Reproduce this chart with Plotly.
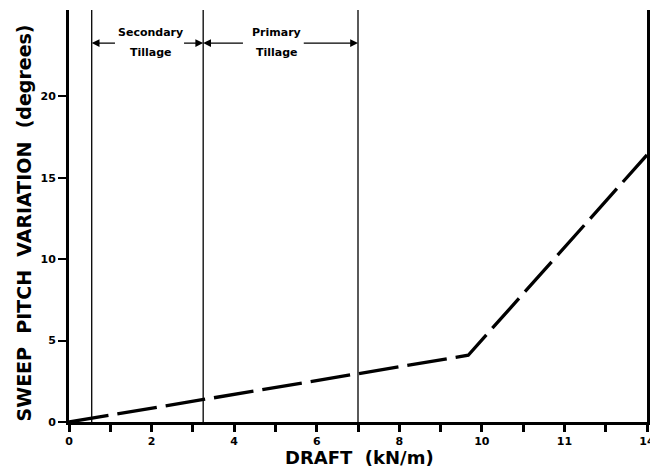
import plotly.graph_objects as go

# Data
draft = [0.0, 9.67, 14.0]
pitch = [0.0, 4.1, 16.4]
boundaries = [0.55, 3.25, 7.0]
x_tick_vals = list(range(0, 15))
x_tick_text = ["0", "", "2", "", "4", "", "6", "", "8", "", "10", "", "11", "", "14"]
y_tick_vals = [0, 5, 10, 15, 20]
y_tick_text = ["0", "5", "10", "15", "20"]
region_line1 = ["Secondary", "Primary"]
region_line2 = ["Tillage", "Tillage"]
x_title = "DRAFT  (kN/m)"
y_title = "SWEEP  PITCH  VARIATION  (degrees)"

FONT = "DejaVu Sans"
YMAX = 25.3

fig = go.Figure()
fig.add_trace(go.Scatter(
    x=draft, y=pitch, mode="lines",
    line=dict(color="black", width=3.3, dash="40px,9px"),
    showlegend=False, hoverinfo="skip",
))

for b in boundaries:
    fig.add_shape(type="line", xref="x", yref="y", x0=b, x1=b, y0=0, y1=YMAX,
                  line=dict(color="black", width=1.3))

arrow_y = 23.27
arrows = [
    (1.15, boundaries[0]), (2.75, boundaries[1]),
    (4.25, boundaries[1]), (5.65, boundaries[2]),
]
for tail, head in arrows:
    fig.add_annotation(x=head, y=arrow_y, ax=tail, ay=arrow_y, xref="x", yref="y",
                       axref="x", ayref="y", text="", showarrow=True,
                       arrowhead=2, arrowsize=1.2, arrowwidth=1.3, arrowcolor="black")

centers = [1.98, 5.03]
for c, l1, l2 in zip(centers, region_line1, region_line2):
    fig.add_annotation(x=c, y=23.89, xref="x", yref="y", text=l1, showarrow=False,
                       font=dict(family=FONT, size=11, color="black", weight="bold"))
    fig.add_annotation(x=c, y=22.66, xref="x", yref="y", text=l2, showarrow=False,
                       font=dict(family=FONT, size=11, color="black", weight="bold"))

fig.add_annotation(x=0.503, y=-0.087, xref="paper", yref="paper", text=x_title,
                   showarrow=False, xanchor="center", yanchor="middle",
                   font=dict(family=FONT, size=18, color="black", weight="bold"))
fig.add_annotation(x=-0.077, y=0.483, xref="paper", yref="paper", text=y_title,
                   showarrow=False, xanchor="center", yanchor="middle", textangle=-90,
                   font=dict(family=FONT, size=19, color="black", weight="bold"))

fig.update_layout(
    width=650, height=460,
    margin=dict(l=61, r=11, t=2, b=46),
    paper_bgcolor="white", plot_bgcolor="white",
    font=dict(family=FONT, color="black"),
)
fig.update_xaxes(
    range=[0, 14], tickvals=x_tick_vals, ticktext=x_tick_text,
    ticks="outside", ticklen=7, tickwidth=3, tickcolor="black",
    showline=True, linewidth=3, linecolor="black", mirror=False,
    showgrid=False, zeroline=False, automargin=False,
    tickfont=dict(family=FONT, size=11, weight="bold"),
)
fig.update_yaxes(
    range=[0, YMAX], tickvals=y_tick_vals, ticktext=y_tick_text,
    ticks="outside", ticklen=8, tickwidth=2, tickcolor="black",
    showline=True, linewidth=3, linecolor="black", mirror=True,
    showgrid=False, zeroline=False, automargin=False,
    tickfont=dict(family=FONT, size=11, weight="bold"),
)

fig.write_html("out.html")
